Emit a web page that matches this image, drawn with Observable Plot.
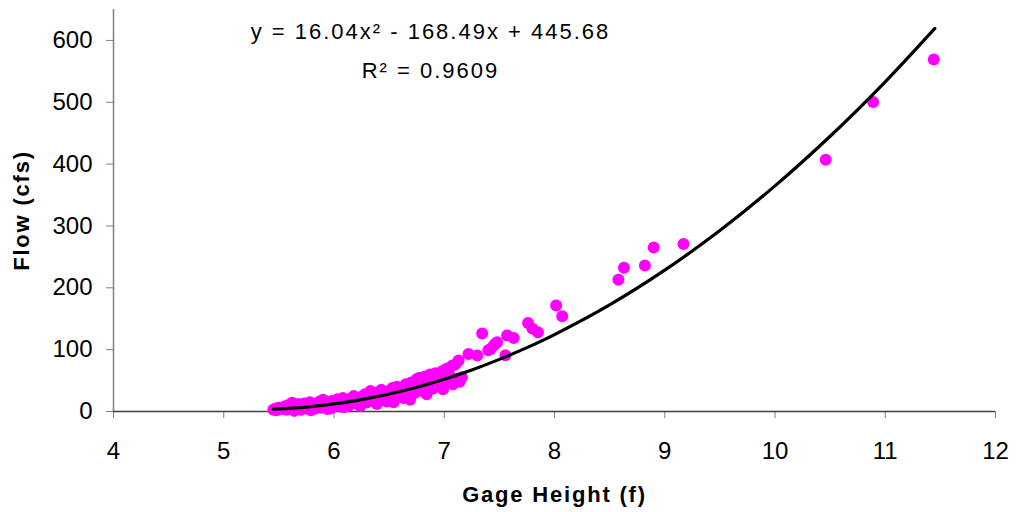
<!DOCTYPE html>
<html><head><meta charset="utf-8">
<script src="https://cdn.jsdelivr.net/npm/d3@7"></script>
<script src="https://cdn.jsdelivr.net/npm/@observablehq/plot@0.6"></script>
<style>
body{margin:0;background:#fff}
svg{font-family:"Liberation Sans",Arial,sans-serif}
</style>
</head><body><div id="chart"></div>
<script>
const gageHeight = [5.45,5.47,5.48,5.50,5.52,5.55,5.57,5.58,5.60,5.62,5.63,5.65,5.67,5.68,5.70,5.72,5.73,5.75,5.77,5.78,5.80,5.82,5.83,5.85,5.87,5.88,5.90,5.92,5.93,5.95,5.97,5.98,6.00,6.02,6.03,6.05,6.07,6.08,6.10,6.12,6.13,6.15,6.17,6.18,6.20,6.22,6.23,6.25,6.27,6.28,6.30,6.32,6.33,6.35,6.37,6.38,6.40,6.42,6.43,6.45,6.47,6.48,6.50,6.52,6.53,6.55,6.57,6.58,6.60,6.62,6.63,6.65,6.67,6.68,6.70,6.72,6.73,6.75,6.77,6.78,6.80,6.82,6.83,6.85,6.87,6.88,6.90,6.92,6.93,6.95,6.97,6.98,7.00,7.02,7.03,7.05,7.07,7.08,7.10,7.12,7.14,7.13,7.04,7.16,7.22,7.30,7.344,7.40,7.42,7.45,7.465,7.48,7.555,7.57,7.63,7.76,7.80,7.85,8.015,8.07,8.58,8.63,8.82,8.90,9.17,10.46,10.89,11.44,5.64,5.79,5.94,6.09,6.24,6.39,6.54,6.69,6.84,6.99];
const flow = [3,5,2,6,4,8,3,10,6,14,4,9,6,12,3,8,13,5,10,15,7,4,12,9,16,6,19,11,8,14,5,17,10,13,20,8,16,22,12,18,9,21,15,25,13,19,11,24,17,28,15,22,33,19,27,14,31,21,35,18,26,16,33,24,38,21,40,29,25,36,22,44,31,27,47,35,30,52,54,38,33,56,45,40,60,50,37,62,46,55,42,65,51,69,47,58,74,44,76,53,48,82.5,69,55.5,93,90.6,126,99,101,107,109.5,112,91,123,119,143,134,128,171.5,154,213,232.5,236,265,271,407,500.5,569,1,2,4,7,9,12,15,19,28,36];

const trendX = [5.45,5.75,6.0,6.25,6.5,6.75,7.0,7.25,7.5,7.75,8.0,8.5,9.0,9.5,10.0,10.5,11.0,11.45];
const trendY = [3.8,7.2,12.2,19.2,28.2,39.2,52.2,67.2,84.3,103.3,124.4,172.4,228.5,292.6,364.8,445.0,533.1,619.4];

const xTicks = [4,5,6,7,8,9,10,11,12];
const yTicks = [0,100,200,300,400,500,600];
const xTitle = "Gage Height (f)";
const yTitle = "Flow (cfs)";
const equationText = "y = 16.04x² - 168.49x + 445.68";
const r2Text = "R² = 0.9609";
const labelX = [6.875];
const equationY = [613];
const r2Y = [550];

const points = gageHeight.map((g, i) => ({g, f: flow[i]}));
const trend = trendX.map((g, i) => ({g, f: trendY[i]}));

const chart = Plot.plot({
  width: 1016,
  height: 512,
  marginLeft: 113,
  marginRight: 21,
  marginTop: 9,
  marginBottom: 101,
  x: {domain: [4, 12]},
  y: {domain: [0, 650]},
  marks: [
    Plot.axisY({ticks: yTicks, tickSize: 7, tickPadding: 14, fontSize: 24, label: null, stroke: "#808080", color: "#000"}),
    Plot.axisX({ticks: xTicks, tickSize: 7, tickPadding: 23, fontSize: 24, label: null, stroke: "#808080", color: "#000"}),
    Plot.ruleX([4], {stroke: "#808080", strokeWidth: 1.5}),
    Plot.ruleY([0], {stroke: "#404040", strokeWidth: 1.5}),
    Plot.dot(points, {x: "g", y: "f", r: 6, fill: "#FF00FF", stroke: "none"}),
    Plot.line(trend, {x: "g", y: "f", stroke: "#000", strokeWidth: 3.2, curve: "catmull-rom"}),
    Plot.text([equationText], {x: labelX, y: equationY, text: d => d, fontSize: 22, fill: "#000", textAnchor: "middle"}),
    Plot.text([r2Text], {x: labelX, y: r2Y, text: d => d, fontSize: 22, fill: "#000", textAnchor: "middle"}),
    Plot.text([yTitle], {frameAnchor: "left", dx: -92, rotate: -90, text: d => d, fontSize: 22, fontWeight: "bold", fill: "#000", textAnchor: "middle", lineAnchor: "middle"}),
    Plot.text([xTitle], {frameAnchor: "bottom", dy: 83, text: d => d, fontSize: 22, fontWeight: "bold", fill: "#000", textAnchor: "middle", lineAnchor: "middle"})
  ]
});
d3.select(chart).selectAll("text")
  .filter(function() { return this.textContent === equationText || this.textContent === r2Text; })
  .style("letter-spacing", "2px");
d3.select(chart).selectAll("text")
  .filter(function() { return this.textContent === xTitle || this.textContent === yTitle; })
  .style("letter-spacing", "1.8px");
document.getElementById("chart").appendChild(chart);
</script>
</body></html>
